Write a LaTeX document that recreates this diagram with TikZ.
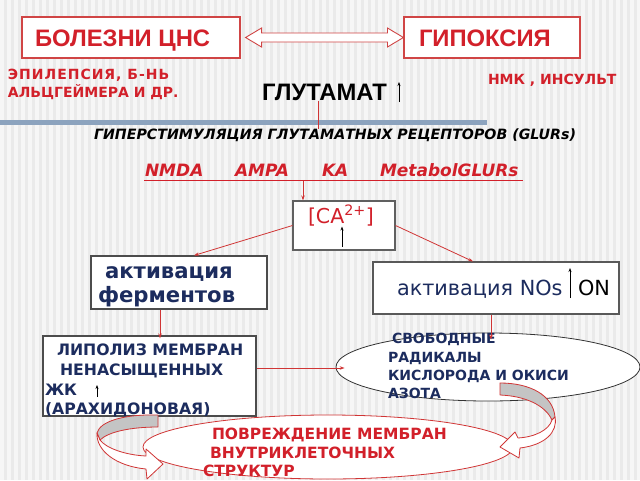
\documentclass[tikz,border=0pt]{standalone}
\usepackage{fontspec}
\setmainfont{DejaVu Sans}
\newfontfamily\lib{Liberation Sans}
\newfontfamily\dvs{DejaVu Sans}
\newfontfamily\dvsw{DejaVu Sans}[LetterSpace=7]
\usetikzlibrary{arrows.meta,shapes.geometric,calc}
\definecolor{hred}{HTML}{D2202A}
\definecolor{bred}{HTML}{D04545}
\definecolor{lred}{HTML}{D03535}
\definecolor{navy}{HTML}{1C2C5E}
\definecolor{bgc}{HTML}{EAEAEA}
\definecolor{barc}{HTML}{8CA3BE}
\definecolor{rib}{HTML}{C4C4C4}
\tikzset{
  txt/.style={anchor=base west, inner sep=0pt, outer sep=0pt},
  hdr/.style={txt, text=hred, font=\lib\bfseries\fontsize{23.8}{23.8}\selectfont},
  rsm/.style={txt, text=hred, font=\dvs\bfseries\fontsize{14}{14}\selectfont},
  nvb/.style={txt, text=navy, font=\dvs\bfseries\fontsize{15.7}{15.7}\selectfont},
  nvs/.style={txt, text=navy, font=\dvs\bfseries\fontsize{14}{14}\selectfont},
  rdb/.style={txt, text=hred, font=\dvs\bfseries\fontsize{15.5}{15.5}\selectfont},
  rec/.style={txt, text=hred, font=\dvs\bfseries\itshape\fontsize{17}{17}\selectfont},
  box/.style={draw=#1, fill=white, line width=1.1pt, inner sep=0pt},
  rline/.style={draw=lred, line width=0.8pt},
  rarr/.style={rline, -{Stealth[length=5pt,width=3.5pt]}},
  uparr/.style={draw=black, line width=0.8pt, -{Stealth[length=4pt,width=3pt]}},
  ribbon/.style={draw=lred, line width=0.8pt, line join=round}
}
\begin{document}
\begin{tikzpicture}[x=1pt,y=-1pt]
\useasboundingbox (0,0) rectangle (640,480);
% background
\fill[bgc] (0,0) rectangle (640,480);
\foreach \s in {0,7,...,637} \fill[white,opacity=0.6] (\s,0) rectangle ++(3.5,480);
\fill[barc] (0,119.5) rectangle (487,125);
% top boxes
\node[box=bred, minimum width=218pt, minimum height=41pt] (bol) at (131,37.5) {};
\node[box=bred, minimum width=176pt, minimum height=41pt] (gip) at (492,37.5) {};
\node[hdr] (tbol) at (35,46.5) {БОЛЕЗНИ ЦНС};
\node[hdr] (tgip) at (419,46.5) {ГИПОКСИЯ};
% double arrow
\draw[draw=bred, fill=white, line width=0.9pt, line join=miter]
  ($(bol.east)+(5,0)$) -- ++(16,-9.5) -- ++(0,5) -- ($(gip.west)+(-16,-4.5)$) -- ++(0,-5)
  -- (gip.west) -- ++(-16,9.5) -- ++(0,-5) -- ($(bol.east)+(21,4.5)$) -- ++(0,5) -- cycle;
% red side notes
\node[txt, text=hred, font=\dvsw\bfseries\fontsize{14}{14}\selectfont] (epi1) at (8,79) {ЭПИЛЕПСИЯ, Б-НЬ};
\node[rsm] (epi2) at (8,97) {АЛЬЦГЕЙМЕРА И ДР.};
\node[rsm] (nmk) at (488,84.5) {НМК , ИНСУЛЬТ};
% glutamate
\node[txt, font=\lib\bfseries\fontsize{23.8}{23.8}\selectfont] (glut) at (262,100.5) {ГЛУТАМАТ};
\coordinate (gup0) at (399,102);
\coordinate (gup1) at (399,82);
\draw[uparr] (gup0) -- (gup1);
\node[txt, font=\dvs\bfseries\itshape\fontsize{14.2}{14.2}\selectfont] (hyp) at (94,139.5) {ГИПЕРСТИМУЛЯЦИЯ ГЛУТАМАТНЫХ РЕЦЕПТОРОВ (GLURs)};
\draw[rline] (glut.south -| 318,0) -- (hyp.north -| 318,0);
% receptors
\node[rec] (nmda) at (145,176.5) {NMDA};
\node[rec] (ampa) at (235,176.5) {AMPA};
\node[rec] (ka) at (322,176.5) {KA};
\node[rec] (metab) at (380,176.5) {MetabolGLURs};
\coordinate (ul0) at (144,180);
\coordinate (ul1) at (523,180);
\draw[draw=hred, line width=1pt] (ul0) -- (ul1);
% Ca box
\node[box=gray!75!black, minimum width=102pt, minimum height=49pt] (ca) at (344,225.5) {};
\node[txt, text=hred, font=\dvs\fontsize{20.5}{20.5}\selectfont] (tca) at (308,223) {[CA\textsuperscript{2+}]};
\draw[uparr] ($(ca.south)+(-2,-4)$) -- ($(ca.south)+(-2,-24)$);
\coordinate (ulca) at (303,181);
\draw[rarr] (ulca) -- (ca.north -| ulca);
% enzyme boxes
\node[box=gray!60!black, minimum width=176pt, minimum height=53pt] (ferm) at (179,282.5) {};
\node[txt, text=navy, font=\dvs\bfseries\fontsize{21.2}{21.2}\selectfont] (ferm1) at (105,278) {активация};
\node[txt, text=navy, font=\dvs\bfseries\fontsize{21.2}{21.2}\selectfont] (ferm2) at (98,302.5) {ферментов};
\node[box=gray!70!black, minimum width=246pt, minimum height=52pt] (nos) at (496,288) {};
\node[txt, text=navy, font=\dvs\fontsize{20.8}{20.8}\selectfont] (nos1) at (397,295) {активация NOs};
\node[txt, text=black, font=\dvs\fontsize{20.8}{20.8}\selectfont] (on) at (578,295) {ON};
\draw[uparr] (570,298) -- (570,268);
\draw[rarr] (ca.west) -- ($(ferm.north)+(15,0)$);
\draw[rarr] (ca.east) -- ($(nos.north)+(-23,0)$);
% lipolysis box
\node[box=gray!60!black, minimum width=213pt, minimum height=80pt] (lip) at (149.5,376) {};
\node[nvb] (lip1) at (57,355) {ЛИПОЛИЗ МЕМБРАН};
\node[nvb] (lip2) at (60,375) {НЕНАСЫЩЕННЫХ};
\node[nvb] (lip3) at (45,395.5) {ЖК};
\node[nvb] (lip4) at (45,414) {(АРАХИДОНОВАЯ)};
\draw[uparr, line width=0.6pt] (97,397) -- (97,385);
% radicals ellipse
\node[draw=black!80, fill=white, line width=0.8pt, ellipse, minimum width=304pt, minimum height=68pt, inner sep=0pt] (rad) at (488,367) {};
\node[nvs] (rad1) at (392,343) {СВОБОДНЫЕ};
\node[nvs] (rad2) at (388,362) {РАДИКАЛЫ};
\node[nvs] (rad3) at (388,380) {КИСЛОРОДА И ОКИСИ};
\node[nvs] (rad4) at (388,398) {АЗОТА};
% connectors into lower row
\draw[rarr] (ferm.south -| 160,0) -- ($(lip.north -| 160,0)+(0,3)$);
\draw[rarr] (nos.south -| 491,0) -- ($(rad.north -| 491,0)+(0,7)$);
\draw[rarr] (lip.east |- 0,368) -- ($(rad.west |- 0,368)+(9,0)$);
% damage ellipse
\node[draw=lred, fill=white, line width=0.8pt, ellipse, minimum width=370pt, minimum height=64pt, inner sep=0pt] (dam) at (328,447) {};
\node[rdb] (dam1) at (212,439.5) {ПОВРЕЖДЕНИЕ МЕМБРАН};
\node[rdb] (dam2) at (210,458) {ВНУТРИКЛЕТОЧНЫХ};
\node[rdb] (dam3) at (203,476) {СТРУКТУР};
% left ribbon arrow
\filldraw[ribbon, fill=rib] (158,415) .. controls (125,414) and (100,421) .. (97,433) -- (100,440) .. controls (108,432) and (130,427) .. (158,427) -- cycle;
\filldraw[ribbon, fill=white] (97,433) .. controls (96,450) and (115,466) .. (146,469) -- (147,479) -- (163,464) -- (146,449) -- (146,456) .. controls (125,455) and (106,448) .. (100,440) -- cycle;
% right ribbon arrow
\filldraw[ribbon, fill=rib] (500,383) .. controls (530,383) and (553,395) .. (555,417) -- (552,420) .. controls (545,405) and (525,396) .. (500,395) -- cycle;
\filldraw[ribbon, fill=white] (555,417) .. controls (558,432) and (545,445) .. (520,448) -- (519,458) -- (500,447) -- (515,432) -- (518,438) .. controls (535,437) and (549,430) .. (552,420) -- cycle;
\end{tikzpicture}
\end{document}
